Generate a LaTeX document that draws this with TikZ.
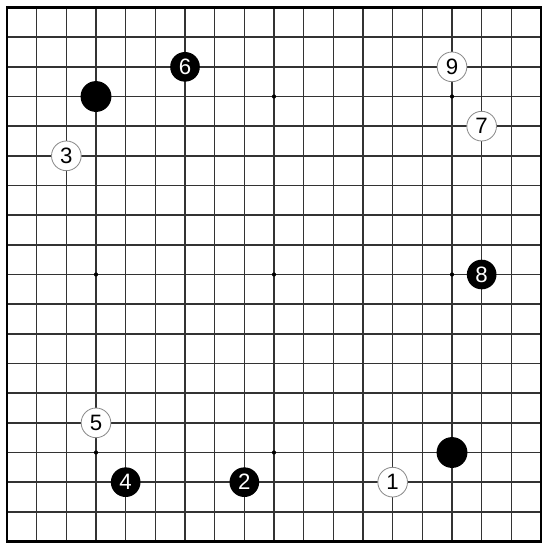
\documentclass[tikz,border=0pt]{standalone}
\usepackage{fontspec}
\setmainfont{Liberation Sans}
\begin{document}
\begin{tikzpicture}[x={(0.75cm,0cm)},y={(0cm,-0.75cm)},
    stone/.style={circle,inner sep=0pt,minimum size=0.75cm,font=\fontsize{16}{16}\selectfont},
    bstone/.style={stone,fill=black,text=white},
    wstone/.style={stone,fill=white,draw=black!45,line width=0.6pt,text=black}]
            \useasboundingbox (0.764,0.747) rectangle (19.303,19.253);
            \foreach \i in {2,...,18}{
                \draw[line width=1.05pt,black!80] (\i,1)--(\i,19);
                \draw[line width=1.05pt,black!80] (1,\i)--(19,\i);
            }
            \draw[line width=2pt] (1,1) rectangle (19,19);
            \foreach \x in {4,10,16}{
                \foreach \y in {4,10,16}{
                    \fill (\x,\y) circle (0.07);
                }
            }
            \node[bstone,minimum size=0.78cm] (b44) at (4,4) {};
            \node[bstone,minimum size=0.78cm] (b1616) at (16,16) {};
            \node[wstone] (m1) at (14,17) {1};
            \node[bstone] (m2) at (9,17) {2};
            \node[wstone] (m3) at (3,6) {3};
            \node[bstone] (m4) at (5,17) {4};
            \node[wstone] (m5) at (4,15) {5};
            \node[bstone] (m6) at (7,3) {6};
            \node[wstone] (m7) at (17,5) {7};
            \node[bstone] (m8) at (17,10) {8};
            \node[wstone] (m9) at (16,3) {9};
        \end{tikzpicture}
\end{document}
